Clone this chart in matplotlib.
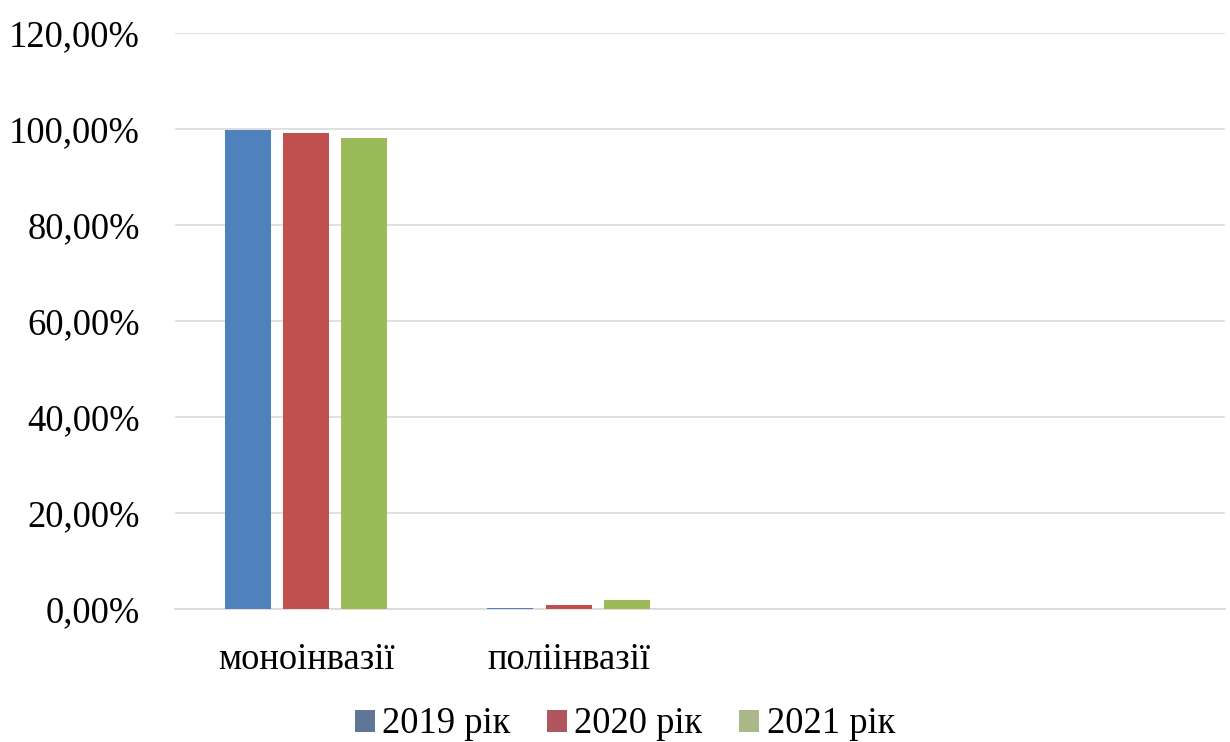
import matplotlib
matplotlib.use("Agg")
import matplotlib.pyplot as plt
import numpy as np
from matplotlib.patches import Patch

plt.rcParams['font.family'] = ['Liberation Serif', 'DejaVu Serif']

categories = ["моноінвазії", "поліінвазії", "", ""]
series = ["2019 рік", "2020 рік", "2021 рік"]
v2019 = [99.8, 0.2, np.nan, np.nan]
v2020 = [99.2, 0.8, np.nan, np.nan]
v2021 = [98.1, 1.9, np.nan, np.nan]
yticks = [0, 20, 40, 60, 80, 100, 120]
ytick_labels = ["0,00%", "20,00%", "40,00%", "60,00%", "80,00%", "100,00%", "120,00%"]

colors = ["#4F81BD", "#C0504D", "#9BBB59"]
legend_colors = ["#5F7795", "#B0565F", "#A9B886"]

fig = plt.figure(figsize=(12.3, 7.42), dpi=100)
ax = fig.add_axes([0.142, 0.179, 0.854, 0.776])

x = np.arange(len(categories))
w = 0.175
off = 0.222
for i, (vals, c) in enumerate(zip([v2019, v2020, v2021], colors)):
    ax.bar(x + (i - 1) * off, vals, width=w, color=c, zorder=3)

ax.set_xlim(-0.5, len(categories) - 0.5)
ax.set_ylim(0, 120)
ax.set_yticks(yticks)
ax.set_yticklabels(ytick_labels, fontsize=26.3)
ax.set_xticks(x)
ax.set_xticklabels(categories, fontsize=26.3)
ax.tick_params(axis='both', length=0)
ax.tick_params(axis='y', pad=25)
ax.tick_params(axis='x', pad=24)
ax.grid(axis='y', color='#D9D9D9', linewidth=1.2, zorder=0)
for s in ['top', 'right', 'left']:
    ax.spines[s].set_visible(False)
ax.spines['bottom'].set_color('#D9D9D9')
ax.spines['bottom'].set_linewidth(1.2)

handles = [Patch(facecolor=c, edgecolor='none') for c in legend_colors]
fig.legend(handles, series, loc='center', bbox_to_anchor=(0.508, 0.024), ncol=3,
           frameon=False, fontsize=26.3, handlelength=0.55, handleheight=0.55,
           handletextpad=0.2, columnspacing=1.0)

fig.savefig("out.png", dpi=100, facecolor='white')
